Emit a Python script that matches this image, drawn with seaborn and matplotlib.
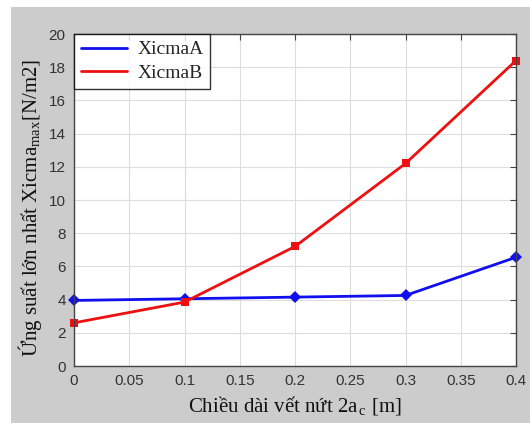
import numpy as np
import pandas as pd
import seaborn as sns
import matplotlib.pyplot as plt
from matplotlib.patches import Rectangle
from matplotlib.lines import Line2D

# Data
crack_length = [0.0, 0.1, 0.2, 0.3, 0.4]
xicma_a = [3.95, 4.05, 4.15, 4.25, 6.55]
xicma_b = [2.6, 3.85, 7.2, 12.2, 18.4]
x_ticks = [0, 0.05, 0.1, 0.15, 0.2, 0.25, 0.3, 0.35, 0.4]
x_tick_labels = ["0", "0.05", "0.1", "0.15", "0.2", "0.25", "0.3", "0.35", "0.4"]
y_ticks = [0, 2, 4, 6, 8, 10, 12, 14, 16, 18, 20]

df = pd.DataFrame({
    "x": crack_length * 2,
    "y": xicma_a + xicma_b,
    "series": ["XicmaA"] * 5 + ["XicmaB"] * 5,
})

sns.set_style("white")
plt.rcParams["font.family"] = ["Liberation Sans", "DejaVu Sans"]
plt.rcParams["mathtext.fontset"] = "custom"
plt.rcParams["mathtext.rm"] = "Liberation Serif"
plt.rcParams["mathtext.it"] = "Liberation Serif:italic"

fig = plt.figure(figsize=(5.32, 4.25), dpi=100)
fig.patch.set_facecolor("white")
# gray figure panel (MATLAB style)
fig.patches.append(Rectangle((11 / 532, 2 / 425), 519 / 532, 416 / 425,
                             transform=fig.transFigure, facecolor="#cccccc",
                             edgecolor="none", zorder=-1))

ax = fig.add_axes([74 / 532, 59 / 425, 442 / 532, 332 / 425])
ax.set_facecolor("white")

palette = {"XicmaA": "#1010ee", "XicmaB": "#ee1010"}
markers = {"XicmaA": "D", "XicmaB": "s"}
sns.lineplot(data=df, x="x", y="y", hue="series", style="series",
             palette=palette, markers=markers, dashes=False,
             markersize=6, linewidth=2, markeredgewidth=0, ax=ax,
             legend=False, clip_on=False)

ax.set_xlim(0, 0.4)
ax.set_ylim(0, 20)
ax.set_xticks(x_ticks)
ax.set_xticklabels(x_tick_labels)
ax.set_yticks(y_ticks)
ax.grid(True, color="#dddddd", linewidth=0.8)
ax.tick_params(direction="in", length=4, top=True, right=True,
               labelsize=11, colors="#444444", labelcolor="#333333", pad=6)
for s in ax.spines.values():
    s.set_color("#444444")
    s.set_linewidth(1)
    s.set_visible(True)

serif = ["Liberation Serif", "DejaVu Serif"]
ax.set_xlabel("Chiều dài vết nứt 2a$_{\\,\\mathrm{c}}$ [m]", family=serif,
              fontsize=15, color="#111111", labelpad=4)
ax.set_ylabel("Ứng suất lớn nhất Xicma$_{\\mathrm{max}}$[N/m2]", family=serif,
              fontsize=15, color="#111111")
ax.yaxis.set_label_coords(-0.068, 0.476)

handles = [Line2D([], [], color=palette[k], linewidth=2) for k in ["XicmaA", "XicmaB"]]
leg = ax.legend(handles, ["XicmaA", "XicmaB"], loc="upper left",
                prop={"family": serif, "size": 14}, frameon=True, fancybox=False,
                borderaxespad=0, handlelength=2.4, handletextpad=0.5,
                borderpad=0.35, labelspacing=0.3)
leg.get_frame().set_edgecolor("black")
leg.get_frame().set_linewidth(1)

fig.savefig("out.png", dpi=100)
